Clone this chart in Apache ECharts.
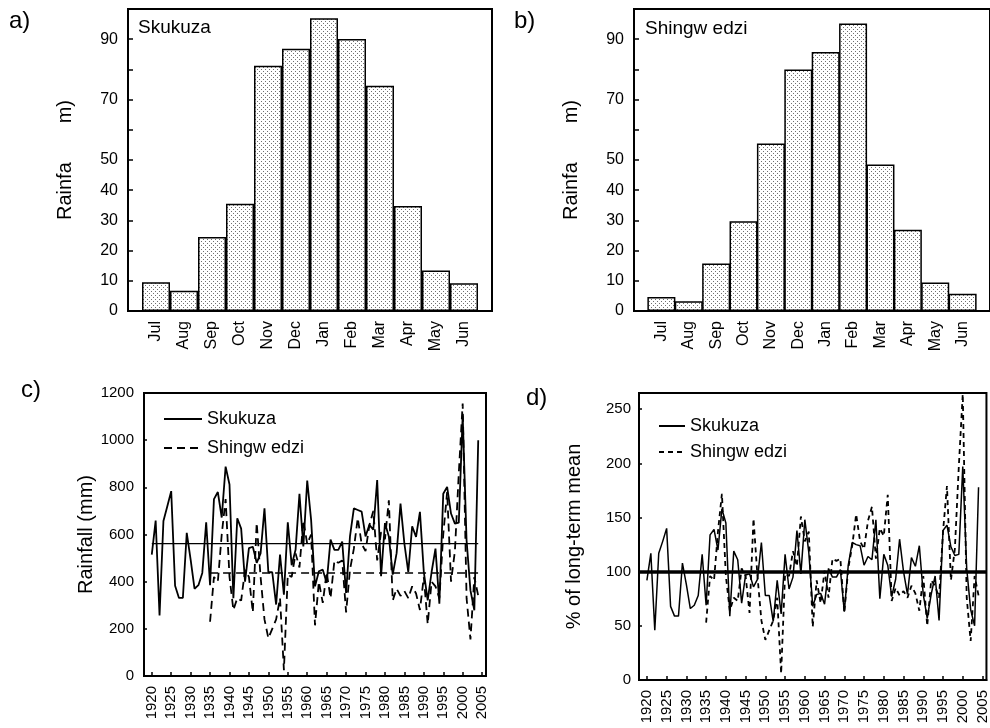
<!DOCTYPE html>
<html>
<head>
<meta charset="utf-8">
<script src="https://cdn.jsdelivr.net/npm/echarts@6/dist/echarts.min.js"></script>
<style>
	html, body { margin: 0; padding: 0; background: #fff; }
	#chart { width: 990px; height: 728px; }
</style>
</head>
<body>
<div id="chart"></div>
<script>
// monthly means (mm)
const months = ['Jul', 'Aug', 'Sep', 'Oct', 'Nov', 'Dec', 'Jan', 'Feb', 'Mar', 'Apr', 'May', 'Jun']
const skukuzaMonthly = [9.5, 6.7, 24.5, 35.5, 81.2, 86.8, 96.9, 90.1, 74.6, 34.8, 13.4, 9.2]
const shingwedziMonthly = [4.6, 3.2, 15.7, 29.7, 55.5, 80.0, 85.8, 95.2, 48.5, 26.9, 9.4, 5.7]
const monthlyTickLabels = [0, 10, 20, 30, 40, 50, 70, 90]

// annual totals (mm), one value per year from the start year
const skukuzaStart = 1920
const skukuzaAnnual = [
	515, 659, 257, 657, 720, 784, 383, 331, 331, 607,
	493, 370, 385, 437, 652, 385, 750, 780, 672, 888,
	812, 330, 669, 625, 400, 542, 548, 480, 520, 711,
	440, 440, 303, 515, 345, 652, 470, 535, 772, 549,
	829, 662, 380, 444, 451, 395, 578, 535, 535, 570,
	352, 592, 711, 704, 697, 592, 641, 620, 831, 423,
	648, 592, 430, 521, 731, 561, 441, 635, 590, 696,
	441, 321, 441, 540, 307, 773, 802, 689, 646, 650,
	1105, 575, 363, 279, 1000,
]
const shingwedziStart = 1935
const shingwedziAnnual = [
	230, 420, 400, 600, 750,
	420, 280, 330, 320, 450, 420, 270, 650, 420, 240,
	160, 200, 240, 330, 25, 430, 420, 520, 460, 660,
	560, 600, 215, 400, 310, 440, 330, 490, 480, 490,
	270, 450, 540, 670, 560, 530, 640, 700, 490, 610,
	580, 745, 320, 370, 340, 360, 330, 380, 350, 280,
	420, 220, 400, 380, 330, 600, 780, 400, 530, 860,
	1155, 330, 155, 420, 340,
]
const skukuzaMean = 561
const shingwedziMean = 437

// annual totals as % of long-term mean
const skukuzaPct = [
	92, 117, 46, 117, 128, 140, 68, 59, 59, 108,
	88, 66, 69, 78, 116, 69, 134, 139, 120, 158,
	145, 59, 119, 111, 71, 97, 98, 86, 93, 127,
	78, 78, 54, 92, 61, 116, 84, 95, 138, 98,
	148, 118, 68, 79, 80, 70, 103, 95, 95, 102,
	63, 106, 127, 125, 124, 106, 114, 111, 148, 75,
	116, 106, 77, 93, 130, 100, 79, 113, 105, 124,
	79, 57, 79, 96, 55, 138, 143, 123, 115, 116,
	197, 103, 65, 50, 178,
]
const shingwedziPct = [
	53, 96, 92, 137, 172,
	96, 64, 76, 73, 103, 96, 62, 149, 96, 55,
	37, 46, 55, 76, 6, 98, 96, 119, 105, 151,
	128, 137, 49, 92, 71, 101, 76, 112, 110, 112,
	62, 103, 124, 153, 128, 121, 147, 160, 112, 140,
	133, 171, 73, 85, 78, 82, 76, 87, 80, 64,
	96, 50, 92, 87, 76, 137, 179, 92, 121, 197,
	264, 76, 36, 96, 78,
]
const yearTicks = [1920, 1925, 1930, 1935, 1940, 1945, 1950, 1955, 1960, 1965,
	1970, 1975, 1980, 1985, 1990, 1995, 2000, 2005]

const FONT = 'Liberation Sans, Arial, sans-serif'

const chartInstance = echarts.init(document.getElementById('chart'))

// dotted fill for the bars
function dotPattern() {
	const c = document.createElement('canvas')
	c.width = 4
	c.height = 4
	const ctx = c.getContext('2d')
	ctx.fillStyle = '#fff'
	ctx.fillRect(0, 0, 4, 4)
	ctx.fillStyle = '#707070'
	ctx.fillRect(1, 1, 1, 1)
	ctx.fillRect(3, 3, 1, 1)
	return { image: c, repeat: 'repeat' }
}
const barFill = dotPattern()

const toPairs = (start, arr) => arr.map((v, i) => [start + i, v])

function monthAxis(gridIndex) {
	return {
		type: 'value',
		gridIndex,
		min: -1,
		max: 12,
		interval: 1,
		splitLine: { show: false },
		axisTick: { show: false },
		axisLine: { show: true, onZero: false, lineStyle: { color: '#000', width: 2 } },
		axisLabel: {
			rotate: 90,
			margin: 10,
			color: '#000',
			fontSize: 16,
			fontFamily: FONT,
			formatter: (v) => months[v] || '',
		},
	}
}
function monthValueAxis(gridIndex) {
	return {
		type: 'value',
		gridIndex,
		min: 0,
		max: 100,
		interval: 10,
		name: 'Rainfa       m)',
		nameLocation: 'middle',
		nameRotate: 90,
		nameGap: 53,
		nameTextStyle: { fontSize: 20, fontFamily: FONT, color: '#000' },
		splitLine: { show: false },
		axisTick: { show: true, inside: true, length: 5, lineStyle: { color: '#000', width: 1.5 } },
		axisLine: { show: true, onZero: false, lineStyle: { color: '#000', width: 2 } },
		axisLabel: {
			margin: 10,
			color: '#000',
			fontSize: 16,
			fontFamily: FONT,
			formatter: (v) => (monthlyTickLabels.includes(v) ? String(v) : ''),
		},
	}
}
function yearAxis(gridIndex) {
	return {
		type: 'value',
		gridIndex,
		min: 1918,
		max: 2006,
		splitLine: { show: false },
		axisTick: { show: true, inside: true, length: 4, customValues: yearTicks, lineStyle: { color: '#000', width: 1.5 } },
		axisLine: { show: true, onZero: false, lineStyle: { color: '#000', width: 2 } },
		axisLabel: {
			rotate: 90,
			margin: 10,
			color: '#000',
			fontSize: 15,
			fontFamily: FONT,
			customValues: yearTicks,
			formatter: (v) => String(v),
		},
	}
}

const frame = { show: true, borderColor: '#000', borderWidth: 2, backgroundColor: 'transparent' }
const textStyle = (size) => ({ fontSize: size, fontWeight: 'normal', fontFamily: FONT, color: '#000' })
const legendBase = {
	orient: 'vertical',
	textStyle: { fontSize: 18, fontFamily: FONT, color: '#000' },
	itemStyle: { opacity: 0 },
	selectedMode: false,
}

const option = {
	animation: false,
	backgroundColor: '#fff',
	title: [
		{ text: 'a)', left: 9, top: 9, textStyle: textStyle(24), padding: 0 },
		{ text: 'b)', left: 514, top: 9, textStyle: textStyle(24), padding: 0 },
		{ text: 'c)', left: 21, top: 378, textStyle: textStyle(24), padding: 0 },
		{ text: 'd)', left: 526, top: 386, textStyle: textStyle(24), padding: 0 },
		{ text: 'Skukuza', left: 138, top: 18, textStyle: textStyle(19), padding: 0 },
		{ text: 'Shingw edzi', left: 645, top: 19, textStyle: textStyle(19), padding: 0 },
	],
	legend: [
		{
			...legendBase,
			data: ['Skukuza', 'Shingw edzi'],
			left: 158,
			top: 405,
			itemWidth: 38,
			itemHeight: 14,
			itemGap: 11,
		},
		{
			...legendBase,
			data: ['Skukuza ', 'Shingw edzi '],
			left: 653,
			top: 412,
			itemWidth: 26,
			itemHeight: 14,
			itemGap: 8,
		},
	],
	grid: [
		{ left: 128, top: 9, width: 364, height: 302, ...frame },
		{ left: 634, top: 9, width: 365, height: 302, ...frame },
		{ left: 144, top: 393, width: 342, height: 283, ...frame },
		{ left: 639, top: 393, width: 355, height: 287, ...frame },
	],
	xAxis: [monthAxis(0), monthAxis(1), yearAxis(2), yearAxis(3)],
	yAxis: [
		monthValueAxis(0),
		monthValueAxis(1),
		{
			type: 'value',
			gridIndex: 2,
			min: 0,
			max: 1200,
			interval: 200,
			name: 'Rainfall (mm)',
			nameLocation: 'middle',
			nameRotate: 90,
			nameGap: 41,
			nameTextStyle: { fontSize: 20, fontFamily: FONT, color: '#000' },
			splitLine: { show: false },
			axisTick: { show: true, inside: true, length: 3, lineStyle: { color: '#000', width: 1.5 } },
			axisLine: { show: true, onZero: false, lineStyle: { color: '#000', width: 2 } },
			axisLabel: { margin: 10, color: '#000', fontSize: 15, fontFamily: FONT, formatter: (v) => String(v) },
		},
		{
			type: 'value',
			gridIndex: 3,
			min: 0,
			max: 265,
			interval: 50,
			name: '% of long-term mean',
			nameLocation: 'middle',
			nameRotate: 90,
			nameGap: 55,
			nameTextStyle: { fontSize: 20, fontFamily: FONT, color: '#000' },
			splitLine: { show: false },
			axisTick: { show: true, inside: true, length: 3, lineStyle: { color: '#000', width: 1.5 } },
			axisLine: { show: true, onZero: false, lineStyle: { color: '#000', width: 2 } },
			axisLabel: {
				margin: 8,
				color: '#000',
				fontSize: 15,
				fontFamily: FONT,
				formatter: (v) => (v % 50 === 0 ? String(v) : ''),
			},
		},
	],
	series: [
		{
			type: 'bar',
			xAxisIndex: 0,
			yAxisIndex: 0,
			barWidth: 28,
			data: skukuzaMonthly.map((v, i) => [i, v]),
			itemStyle: { color: barFill, borderColor: '#000', borderWidth: 1.5 },
		},
		{
			type: 'bar',
			xAxisIndex: 1,
			yAxisIndex: 1,
			barWidth: 28,
			data: shingwedziMonthly.map((v, i) => [i, v]),
			itemStyle: { color: barFill, borderColor: '#000', borderWidth: 1.5 },
		},
		// c) annual rainfall
		{
			name: 'Skukuza',
			type: 'line',
			xAxisIndex: 2,
			yAxisIndex: 2,
			symbol: 'none',
			data: toPairs(skukuzaStart, skukuzaAnnual),
			lineStyle: { color: '#000', width: 1.8 },
			itemStyle: { color: '#000' },
		},
		{
			name: 'Shingw edzi',
			type: 'line',
			xAxisIndex: 2,
			yAxisIndex: 2,
			symbol: 'none',
			data: toPairs(shingwedziStart, shingwedziAnnual),
			lineStyle: { color: '#000', width: 1.8, type: [8, 5] },
			itemStyle: { color: '#000' },
		},
		{
			type: 'line',
			xAxisIndex: 2,
			yAxisIndex: 2,
			symbol: 'none',
			data: [[skukuzaStart, skukuzaMean], [skukuzaStart + skukuzaAnnual.length - 1, skukuzaMean]],
			lineStyle: { color: '#000', width: 1.3 },
		},
		{
			type: 'line',
			xAxisIndex: 2,
			yAxisIndex: 2,
			symbol: 'none',
			data: [[shingwedziStart, shingwedziMean], [shingwedziStart + shingwedziAnnual.length - 1, shingwedziMean]],
			lineStyle: { color: '#000', width: 1.5, type: [8, 5] },
		},
		// d) percent of long-term mean
		{
			name: 'Skukuza ',
			type: 'line',
			xAxisIndex: 3,
			yAxisIndex: 3,
			symbol: 'none',
			data: toPairs(skukuzaStart, skukuzaPct),
			lineStyle: { color: '#000', width: 1.5 },
			itemStyle: { color: '#000' },
			markLine: {
				silent: true,
				symbol: 'none',
				label: { show: false },
				lineStyle: { color: '#000', width: 3.5, type: 'solid' },
				data: [{ yAxis: 100 }],
			},
		},
		{
			name: 'Shingw edzi ',
			type: 'line',
			xAxisIndex: 3,
			yAxisIndex: 3,
			symbol: 'none',
			data: toPairs(shingwedziStart, shingwedziPct),
			lineStyle: { color: '#000', width: 1.8, type: [5, 4] },
			itemStyle: { color: '#000' },
		},
	],
}
chartInstance.setOption(option)
</script>
</body>
</html>
